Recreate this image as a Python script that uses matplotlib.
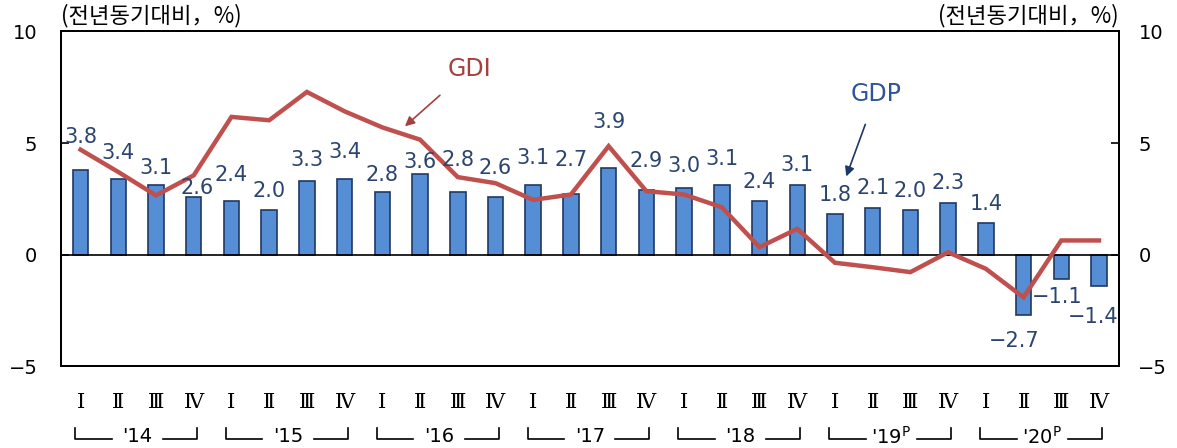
import numpy as np
import matplotlib
matplotlib.use("Agg")
import matplotlib.pyplot as plt
import matplotlib.transforms as mtransforms

plt.rcParams['font.family'] = ['DejaVu Sans', 'Noto Sans CJK KR']
plt.rcParams['axes.unicode_minus'] = True

# data
quarters = ['Ⅰ', 'Ⅱ', 'Ⅲ', 'Ⅳ'] * 7
years = ["'14", "'15", "'16", "'17", "'18", "'19$^{\\mathrm{P}}$", "'20$^{\\mathrm{P}}$"]
gdp = [3.8, 3.4, 3.1, 2.6, 2.4, 2.0, 3.3, 3.4, 2.8, 3.6, 2.8, 2.6, 3.1, 2.7,
       3.9, 2.9, 3.0, 3.1, 2.4, 3.1, 1.8, 2.1, 2.0, 2.3, 1.4, -2.7, -1.1, -1.4]
gdi = [4.7, 3.7, 2.65, 3.55, 6.17, 6.02, 7.29, 6.42, 5.7, 5.15, 3.47, 3.2,
       2.45, 2.69, 4.86, 2.84, 2.69, 2.12, 0.33, 1.15, -0.37, -0.57, -0.79, 0.1,
       -0.64, -1.92, 0.63, 0.63]

# label placement (layout, not data)
label_y = [5.25, 4.54, 3.9, 2.96, 3.55, 2.87, 4.22, 4.58, 3.55, 4.14, 4.22, 3.87,
           4.31, 4.22, 5.93, 4.19, 3.96, 4.27, 3.25, 4.0, 2.65, 2.96, 2.87, 3.19,
           2.25, -3.86, -1.92, -2.78]
label_dx = [0.0] * 28
label_dx[3] = 0.09
label_dx[25] = -0.24
label_dx[26] = -0.1
label_dx[27] = -0.16

bar_face = '#558ED5'
bar_edge = '#1F3864'
line_col = '#C0504D'
lab_col = '#2B4570'

x = np.arange(len(gdp))

fig = plt.figure(figsize=(11.77, 4.48), dpi=100)
ax = fig.add_axes([0.0518, 0.183, 0.8989, 0.7467])

ax.bar(x, gdp, width=0.41, color=bar_face, edgecolor=bar_edge, linewidth=1.2, zorder=2)
ax.plot(x, gdi, color=line_col, linewidth=3.2, zorder=3, solid_joinstyle='miter')
ax.axhline(0, color='black', linewidth=1.2, zorder=2.5)

for i, v in enumerate(gdp):
    ax.text(x[i] + label_dx[i], label_y[i], ('%.1f' % v).replace('-', '−'),
            ha='center', va='center', fontsize=15, color=lab_col, zorder=4)

ax.set_xlim(-0.52, 27.53)
ax.set_ylim(-5, 10)
ax.set_yticks([-5, 0, 5, 10])
ax.set_yticklabels(['−5', '0', '5', '10'])
ax.tick_params(axis='y', direction='in', length=6, width=1.2, pad=17, labelsize=14)
ax.set_xticks([])
for s in ax.spines.values():
    s.set_linewidth(1.4)

ax2 = ax.twinx()
ax2.set_ylim(-5, 10)
ax2.set_yticks([-5, 0, 5, 10])
ax2.set_yticklabels(['−5', '0', '5', '10'])
ax2.tick_params(axis='y', direction='in', length=6, width=1.2, pad=14, labelsize=14)
for s in ax2.spines.values():
    s.set_linewidth(1.4)

# units
unit = '(전년동기대비，%)'
ax.text(0.0, 1.012, unit, transform=ax.transAxes, ha='left', va='bottom',
        fontsize=16, family=['Noto Sans CJK KR', 'DejaVu Sans'])
ax.text(1.0, 1.012, unit, transform=ax.transAxes, ha='right', va='bottom',
        fontsize=16, family=['Noto Sans CJK KR', 'DejaVu Sans'])

# annotations
ax.annotate('GDI', xy=(8.6, 5.75), xytext=(10.3, 8.3), ha='center', va='center',
            fontsize=17, color='#A5403E',
            arrowprops=dict(arrowstyle='-|>', color='#A5403E', lw=1.2, mutation_scale=14,
                            shrinkA=12, shrinkB=0))
ax.annotate('GDP', xy=(20.3, 3.5), xytext=(21.1, 7.2), ha='center', va='center',
            fontsize=17, color='#2F5597',
            arrowprops=dict(arrowstyle='-|>', color='#1F3864', lw=1.2, mutation_scale=14,
                            shrinkA=12, shrinkB=0))

# x-axis category labels
trans = mtransforms.blended_transform_factory(ax.transData, ax.transAxes)
for i, q in enumerate(quarters):
    ax.text(x[i], -0.11, q, transform=trans, ha='center', va='center', fontsize=15,
            family=['DejaVu Serif', 'DejaVu Sans'], clip_on=False)

yb = -0.219
yt = -0.186
for k, yl in enumerate(years):
    x0 = 4 * k - 0.15
    x1 = 4 * k + 3.08
    xm = 4 * k + 1.5
    ax.plot([x0, x0, xm - 0.68], [yt, yb, yb], transform=trans, color='black',
            lw=1.2, clip_on=False)
    ax.plot([xm + 0.68, x1, x1], [yb, yb, yt], transform=trans, color='black',
            lw=1.2, clip_on=False)
    ax.text(xm, -0.212, yl, transform=trans, ha='center', va='center', fontsize=14,
            clip_on=False)

fig.savefig('out.png', dpi=100)
